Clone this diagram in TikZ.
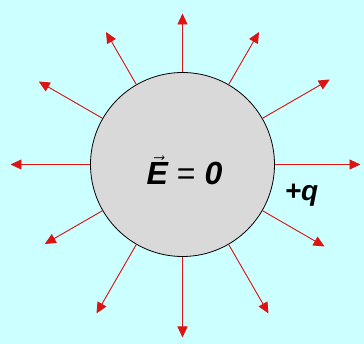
\documentclass[tikz,border=0pt]{standalone}
\usepackage{fontspec}
\setmainfont{Liberation Sans}
\usetikzlibrary{arrows.meta}
\definecolor{skyback}{RGB}{204,255,255}
\definecolor{ballgray}{RGB}{217,217,217}
\definecolor{fieldred}{RGB}{220,20,20}

\begin{document}
\begin{tikzpicture}[x=1pt,y=1pt,>={Triangle[length=11pt,width=10pt]},
  fieldline/.style={->,draw=fieldred,fill=fieldred,line width=0.9pt}]
\fill[skyback] (-182.5,-179.5) rectangle (181.5,164.5);
\useasboundingbox (-182.5,-179.5) rectangle (181.5,164.5);
\node[circle,draw=black,fill=ballgray,line width=0.8pt,minimum size=184pt,inner sep=0pt] (ball) at (0,0) {};
\node (efield) at (2,-6) {\fontsize{32}{38}\selectfont\bfseries\itshape $\vec{\hbox{E}}$\;{\mdseries\upshape =}\;0};
\node (charge) at (119,-31) {\fontsize{28}{32}\selectfont\bfseries\itshape +q};
% field lines leaving the charged ball
\foreach \a/\len in {0/178,30/170,60/153,90/151,120/153,150/166,180/172,210/159,240/172,270/173,300/172,330/164}
  \coordinate (tip\a) at (\a:\len);
\foreach \a in {0,30,...,330}
  \draw[fieldline] (ball.\a) -- (tip\a);
\end{tikzpicture}
\end{document}
